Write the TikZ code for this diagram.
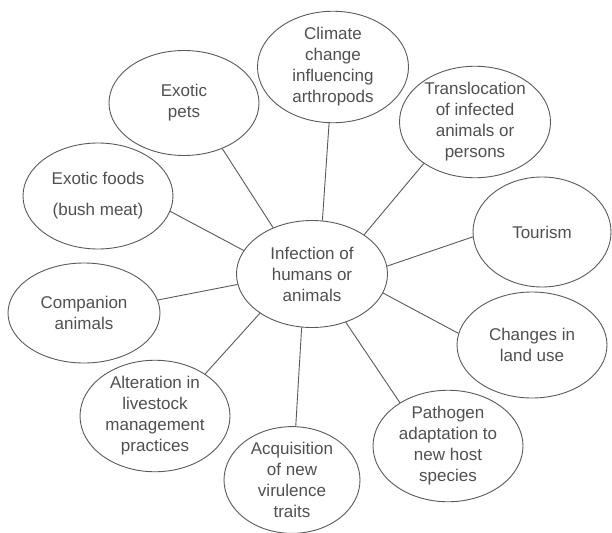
\documentclass[tikz,border=0pt]{standalone}
\usepackage{fontspec}
\setmainfont{Liberation Sans}
\usetikzlibrary{shapes.geometric}
\definecolor{inkline}{HTML}{5A5A5A}
\definecolor{inktext}{HTML}{505050}
\tikzset{
  bubble/.style={ellipse, draw=inkline, line width=0.9pt, inner sep=0pt,
    align=center, text=inktext, font=\fontsize{17}{21}\selectfont},
  link/.style={draw=inkline, line width=0.9pt}
}
\begin{document}
\begin{tikzpicture}[x=1pt,y=-1pt]
\useasboundingbox[fill=white] (0,0) rectangle (612,532);
\node[bubble, minimum width=151pt, minimum height=107pt] (c) at (312,274) {Infection of\\humans or\\animals};
\node[bubble, minimum width=150pt, minimum height=105pt] (pets) at (184,103) {Exotic\\pets};
\node[bubble, minimum width=151pt, minimum height=105pt] (clim) at (333,67) {Climate\\change\\influencing\\arthropods};
\node[bubble, minimum width=151pt, minimum height=101pt] (trans) at (475,122) {Translocation\\of infected\\animals or\\persons};
\node[bubble, minimum width=138pt, minimum height=110pt] (tour) at (542,232) {Tourism};
\node[bubble, minimum width=150pt, minimum height=106pt] (land) at (532,345) {Changes in\\land use};
\node[bubble, minimum width=150pt, minimum height=105pt] (path) at (448,446) {Pathogen\\adaptation to\\new host\\species};
\node[bubble, minimum width=136pt, minimum height=106pt] (acq) at (292,480) {Acquisition\\of new\\virulence\\traits};
\node[bubble, minimum width=150pt, minimum height=106pt] (alt) at (155,416) {Alteration in\\livestock\\management\\practices};
\node[bubble, minimum width=152pt, minimum height=100pt] (comp) at (84,313) {Companion\\animals};
\node[bubble, minimum width=150pt, minimum height=106pt] (food) at (98,196) {Exotic foods\\[10pt](bush meat)};
\draw[link] (c.130) -- (pets.-50);
\draw[link] (c.161.6) -- (food.-12);
\draw[link] (c.79.3) -- (clim.-94.3);
\draw[link] (c.37.9) -- (trans.-141.6);
\draw[link] (c.6.9) -- (tour.-176.7);
\draw[link] (c.-15.3) -- (land.171.2);
\draw[link] (c.-55.2) -- (path.138.7);
\draw[link] (c.-101.5) -- (acq.86.8);
\draw[link] (c.-143.5) -- (alt.40.7);
\draw[link] (c.-172.4) -- (comp.10.9);
\end{tikzpicture}
\end{document}
